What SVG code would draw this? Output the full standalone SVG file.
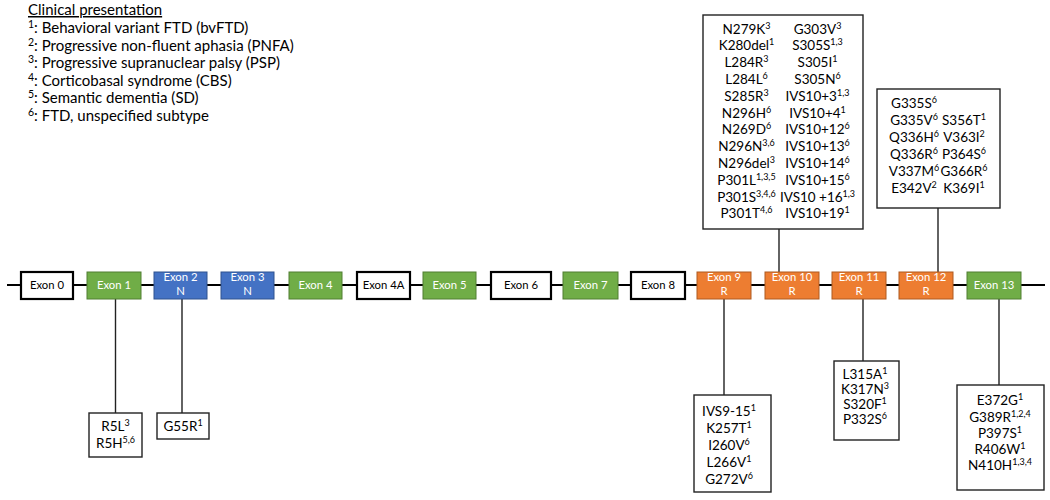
<svg xmlns="http://www.w3.org/2000/svg" width="1050" height="500" viewBox="0 0 1050 500">
<style>
text{font-family:Lato,"Liberation Sans",sans-serif;fill:#000}
.leg{font-size:15px}
.ex{font-size:11.3px;fill:#fff;text-anchor:middle}
.exd{font-size:11.3px;fill:#000;text-anchor:middle}
.m{font-size:13.5px;text-anchor:middle}
.s{font-size:9px}
.ls{font-size:10.5px}
.wb{fill:#fff;stroke:#000;stroke-width:2.2}
.g{fill:#70AD47;stroke:#507E32;stroke-width:1}
.b{fill:#4472C4;stroke:#2F528F;stroke-width:1}
.o{fill:#ED7D31;stroke:#AE5A21;stroke-width:1}
.mb{fill:#fff;stroke:#222;stroke-width:1.4}
.c{stroke:#222;stroke-width:1.4;fill:none}
</style>

<g id="legend">
<text class="leg" x="28" y="15" text-decoration="underline">Clinical presentation</text>
<text class="leg" x="28" y="33"><tspan class="ls" dy="-5">1</tspan><tspan dy="5">: Behavioral variant FTD (bvFTD)</tspan></text>
<text class="leg" x="28" y="50.5"><tspan class="ls" dy="-5">2</tspan><tspan dy="5">: Progressive non-fluent aphasia (PNFA)</tspan></text>
<text class="leg" x="28" y="68"><tspan class="ls" dy="-5">3</tspan><tspan dy="5">: Progressive supranuclear palsy (PSP)</tspan></text>
<text class="leg" x="28" y="85.5"><tspan class="ls" dy="-5">4</tspan><tspan dy="5">: Corticobasal syndrome (CBS)</tspan></text>
<text class="leg" x="28" y="103"><tspan class="ls" dy="-5">5</tspan><tspan dy="5">: Semantic dementia (SD)</tspan></text>
<text class="leg" x="28" y="120.5"><tspan class="ls" dy="-5">6</tspan><tspan dy="5">: FTD, unspecified subtype</tspan></text>
</g>

<g id="connectors">
<line class="c" x1="7" y1="285" x2="1045" y2="285" style="stroke:#000;stroke-width:2"/>
<line class="c" x1="115.5" y1="299" x2="115.5" y2="413"/>
<line class="c" x1="182" y1="299" x2="182" y2="413"/>
<line class="c" x1="724" y1="299" x2="724" y2="395"/>
<line class="c" x1="779" y1="229" x2="779" y2="272"/>
<line class="c" x1="863" y1="299" x2="863" y2="361"/>
<line class="c" x1="938" y1="208" x2="938" y2="272"/>
<line class="c" x1="999" y1="299" x2="999" y2="385"/>
</g>

<g id="exon0"><rect class="wb" x="21" y="272" width="52" height="27"/><text class="exd" x="47" y="289">Exon 0</text></g>
<g id="exon1"><rect class="g" x="87" y="272" width="54" height="27"/><text class="ex" x="114" y="289">Exon 1</text></g>
<g id="exon2"><rect class="b" x="154" y="272" width="53" height="27"/><text class="ex" x="180.5" y="281">Exon 2</text><text class="ex" x="180.5" y="295">N</text></g>
<g id="exon3"><rect class="b" x="221" y="272" width="53" height="27"/><text class="ex" x="247.5" y="281">Exon 3</text><text class="ex" x="247.5" y="295">N</text></g>
<g id="exon4"><rect class="g" x="289" y="272" width="53" height="27"/><text class="ex" x="315.5" y="289">Exon 4</text></g>
<g id="exon4a"><rect class="wb" x="357" y="272" width="53" height="27"/><text class="exd" x="383.5" y="289">Exon 4A</text></g>
<g id="exon5"><rect class="g" x="423" y="272" width="53" height="27"/><text class="ex" x="449.5" y="289">Exon 5</text></g>
<g id="exon6"><rect class="wb" x="491" y="272" width="60" height="27"/><text class="exd" x="521" y="289">Exon 6</text></g>
<g id="exon7"><rect class="g" x="563" y="272" width="55" height="27"/><text class="ex" x="590.5" y="289">Exon 7</text></g>
<g id="exon8"><rect class="wb" x="631" y="272" width="54" height="27"/><text class="exd" x="658" y="289">Exon 8</text></g>
<g id="exon9"><rect class="o" x="697" y="272" width="54" height="27"/><text class="ex" x="724" y="281">Exon 9</text><text class="ex" x="724" y="295">R</text></g>
<g id="exon10"><rect class="o" x="765" y="272" width="54" height="27"/><text class="ex" x="792" y="281">Exon 10</text><text class="ex" x="792" y="295">R</text></g>
<g id="exon11"><rect class="o" x="832" y="272" width="54" height="27"/><text class="ex" x="859" y="281">Exon 11</text><text class="ex" x="859" y="295">R</text></g>
<g id="exon12"><rect class="o" x="899" y="272" width="54" height="27"/><text class="ex" x="926" y="281">Exon 12</text><text class="ex" x="926" y="295">R</text></g>
<g id="exon13"><rect class="g" x="967" y="272" width="54" height="27"/><text class="ex" x="994" y="289">Exon 13</text></g>

<g id="mut-exon1">
<rect class="mb" x="89" y="413" width="53" height="44"/>
<text class="m" x="115.5" y="431">R5L<tspan class="s" dy="-5">3</tspan></text>
<text class="m" x="115.5" y="448">R5H<tspan class="s" dy="-5">5,6</tspan></text>
</g>
<g id="mut-exon2">
<rect class="mb" x="157" y="413" width="52" height="26"/>
<text class="m" x="183" y="431">G55R<tspan class="s" dy="-5">1</tspan></text>
</g>
<g id="mut-exon9">
<rect class="mb" x="694" y="395" width="77" height="97"/>
<text class="m" x="729" y="415.5">IVS9-15<tspan class="s" dy="-5">1</tspan></text>
<text class="m" x="729" y="432.5">K257T<tspan class="s" dy="-5">1</tspan></text>
<text class="m" x="729" y="449.5">I260V<tspan class="s" dy="-5">6</tspan></text>
<text class="m" x="729" y="466.5">L266V<tspan class="s" dy="-5">1</tspan></text>
<text class="m" x="729" y="483.5">G272V<tspan class="s" dy="-5">6</tspan></text>
</g>
<g id="mut-exon10">
<rect class="mb" x="703" y="15" width="160" height="214"/>
<text class="m" x="746.5" y="33.5">N279K<tspan class="s" dy="-5">3</tspan></text>
<text class="m" x="746.5" y="50.3">K280del<tspan class="s" dy="-5">1</tspan></text>
<text class="m" x="746.5" y="67.1">L284R<tspan class="s" dy="-5">3</tspan></text>
<text class="m" x="746.5" y="83.9">L284L<tspan class="s" dy="-5">6</tspan></text>
<text class="m" x="746.5" y="100.7">S285R<tspan class="s" dy="-5">3</tspan></text>
<text class="m" x="746.5" y="117.5">N296H<tspan class="s" dy="-5">6</tspan></text>
<text class="m" x="746.5" y="134.3">N269D<tspan class="s" dy="-5">6</tspan></text>
<text class="m" x="746.5" y="151.1">N296N<tspan class="s" dy="-5">3,6</tspan></text>
<text class="m" x="746.5" y="167.9">N296del<tspan class="s" dy="-5">3</tspan></text>
<text class="m" x="746.5" y="184.7">P301L<tspan class="s" dy="-5">1,3,5</tspan></text>
<text class="m" x="746.5" y="201.5">P301S<tspan class="s" dy="-5">3,4,6</tspan></text>
<text class="m" x="746.5" y="218.3">P301T<tspan class="s" dy="-5">4,6</tspan></text>
<text class="m" x="817.5" y="33.5">G303V<tspan class="s" dy="-5">3</tspan></text>
<text class="m" x="817.5" y="50.3">S305S<tspan class="s" dy="-5">1,3</tspan></text>
<text class="m" x="817.5" y="67.1">S305I<tspan class="s" dy="-5">1</tspan></text>
<text class="m" x="817.5" y="83.9">S305N<tspan class="s" dy="-5">6</tspan></text>
<text class="m" x="817.5" y="100.7">IVS10+3<tspan class="s" dy="-5">1,3</tspan></text>
<text class="m" x="817.5" y="117.5">IVS10+4<tspan class="s" dy="-5">1</tspan></text>
<text class="m" x="817.5" y="134.3">IVS10+12<tspan class="s" dy="-5">6</tspan></text>
<text class="m" x="817.5" y="151.1">IVS10+13<tspan class="s" dy="-5">6</tspan></text>
<text class="m" x="817.5" y="167.9">IVS10+14<tspan class="s" dy="-5">6</tspan></text>
<text class="m" x="817.5" y="184.7">IVS10+15<tspan class="s" dy="-5">6</tspan></text>
<text class="m" x="817.5" y="201.5">IVS10 +16<tspan class="s" dy="-5">1,3</tspan></text>
<text class="m" x="817.5" y="218.3">IVS10+19<tspan class="s" dy="-5">1</tspan></text>
</g>
<g id="mut-exon11">
<rect class="mb" x="834" y="361" width="65" height="79"/>
<text class="m" x="865" y="378.5">L315A<tspan class="s" dy="-5">1</tspan></text>
<text class="m" x="865" y="393.5">K317N<tspan class="s" dy="-5">3</tspan></text>
<text class="m" x="865" y="408.5">S320F<tspan class="s" dy="-5">1</tspan></text>
<text class="m" x="865" y="423.5">P332S<tspan class="s" dy="-5">6</tspan></text>
</g>
<g id="mut-exon12">
<rect class="mb" x="877" y="89" width="123" height="119"/>
<text class="m" x="914" y="107.5">G335S<tspan class="s" dy="-5">6</tspan></text>
<text class="m" x="914" y="124.5">G335V<tspan class="s" dy="-5">6</tspan></text>
<text class="m" x="914" y="141.5">Q336H<tspan class="s" dy="-5">6</tspan></text>
<text class="m" x="914" y="158.5">Q336R<tspan class="s" dy="-5">6</tspan></text>
<text class="m" x="914" y="175.5">V337M<tspan class="s" dy="-5">6</tspan></text>
<text class="m" x="914" y="192.5">E342V<tspan class="s" dy="-5">2</tspan></text>
<text class="m" x="964" y="124.5">S356T<tspan class="s" dy="-5">1</tspan></text>
<text class="m" x="964" y="141.5">V363I<tspan class="s" dy="-5">2</tspan></text>
<text class="m" x="964" y="158.5">P364S<tspan class="s" dy="-5">6</tspan></text>
<text class="m" x="964" y="175.5">G366R<tspan class="s" dy="-5">6</tspan></text>
<text class="m" x="964" y="192.5">K369I<tspan class="s" dy="-5">1</tspan></text>
</g>
<g id="mut-exon13">
<rect class="mb" x="957" y="385" width="87" height="105"/>
<text class="m" x="1000" y="405">E372G<tspan class="s" dy="-5">1</tspan></text>
<text class="m" x="1000" y="421.5">G389R<tspan class="s" dy="-5">1,2,4</tspan></text>
<text class="m" x="1000" y="437.5">P397S<tspan class="s" dy="-5">1</tspan></text>
<text class="m" x="1000" y="453.5">R406W<tspan class="s" dy="-5">1</tspan></text>
<text class="m" x="1000" y="469.5">N410H<tspan class="s" dy="-5">1,3,4</tspan></text>
</g>
</svg>
